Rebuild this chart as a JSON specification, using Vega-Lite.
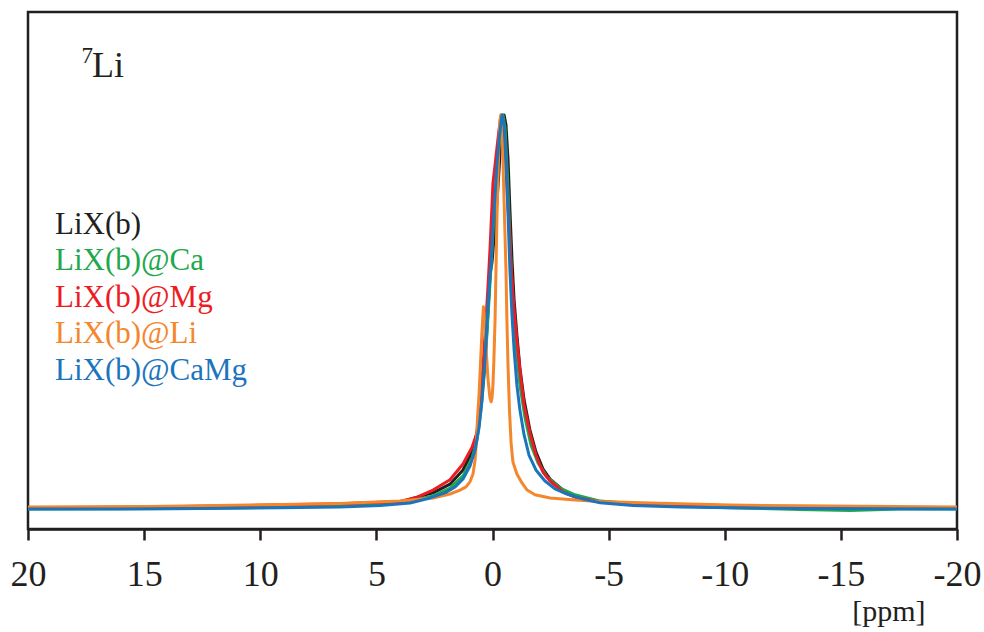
{
"$schema": "https://vega.github.io/schema/vega-lite/v6.json",
"width": 929, "height": 517,
"autosize": {"type": "none"},
"padding": {"left": 28, "top": 12, "right": 27, "bottom": 103},
"background": "white",
"config": {"view": {"stroke": "#231f20", "strokeWidth": 2.5}, "font": "Liberation Serif"},
"datasets": {
"spectra": [
{"sample":"LiX(b)","ppm":20,"intensity":0.001},{"sample":"LiX(b)","ppm":12.59,"intensity":0.004},{"sample":"LiX(b)","ppm":6.57,"intensity":0.010},{"sample":"LiX(b)","ppm":3.98,"intensity":0.018},{"sample":"LiX(b)","ppm":2.56,"intensity":0.041},{"sample":"LiX(b)","ppm":1.83,"intensity":0.063},{"sample":"LiX(b)","ppm":1.27,"intensity":0.099},{"sample":"LiX(b)","ppm":0.88,"intensity":0.145},{"sample":"LiX(b)","ppm":0.67,"intensity":0.193},{"sample":"LiX(b)","ppm":0.50,"intensity":0.264},{"sample":"LiX(b)","ppm":0.32,"intensity":0.378},{"sample":"LiX(b)","ppm":0.19,"intensity":0.505},{"sample":"LiX(b)","ppm":0.11,"intensity":0.594},{"sample":"LiX(b)","ppm":0.02,"intensity":0.627},{"sample":"LiX(b)","ppm":-0.06,"intensity":0.683},{"sample":"LiX(b)","ppm":-0.15,"intensity":0.746},{"sample":"LiX(b)","ppm":-0.24,"intensity":0.822},{"sample":"LiX(b)","ppm":-0.32,"intensity":0.898},{"sample":"LiX(b)","ppm":-0.41,"intensity":0.967},{"sample":"LiX(b)","ppm":-0.50,"intensity":1.0},{"sample":"LiX(b)","ppm":-0.58,"intensity":0.975},{"sample":"LiX(b)","ppm":-0.67,"intensity":0.886},{"sample":"LiX(b)","ppm":-0.75,"intensity":0.759},{"sample":"LiX(b)","ppm":-0.84,"intensity":0.632},{"sample":"LiX(b)","ppm":-0.93,"intensity":0.530},{"sample":"LiX(b)","ppm":-1.05,"intensity":0.442},{"sample":"LiX(b)","ppm":-1.18,"intensity":0.358},{"sample":"LiX(b)","ppm":-1.36,"intensity":0.277},{"sample":"LiX(b)","ppm":-1.61,"intensity":0.201},{"sample":"LiX(b)","ppm":-1.87,"intensity":0.145},{"sample":"LiX(b)","ppm":-2.17,"intensity":0.102},{"sample":"LiX(b)","ppm":-2.48,"intensity":0.076},{"sample":"LiX(b)","ppm":-3.04,"intensity":0.048},{"sample":"LiX(b)","ppm":-3.55,"intensity":0.033},{"sample":"LiX(b)","ppm":-4.63,"intensity":0.019},{"sample":"LiX(b)","ppm":-6.78,"intensity":0.010},{"sample":"LiX(b)","ppm":-10.23,"intensity":0.004},{"sample":"LiX(b)","ppm":-20,"intensity":0.001},

{"sample":"LiX(b)@Ca","ppm":20,"intensity":0},{"sample":"LiX(b)@Ca","ppm":12.59,"intensity":0.001},{"sample":"LiX(b)@Ca","ppm":6.57,"intensity":0.008},{"sample":"LiX(b)@Ca","ppm":3.98,"intensity":0.015},{"sample":"LiX(b)@Ca","ppm":2.56,"intensity":0.033},{"sample":"LiX(b)@Ca","ppm":1.83,"intensity":0.053},{"sample":"LiX(b)@Ca","ppm":1.27,"intensity":0.084},{"sample":"LiX(b)@Ca","ppm":0.88,"intensity":0.129},{"sample":"LiX(b)@Ca","ppm":0.67,"intensity":0.175},{"sample":"LiX(b)@Ca","ppm":0.50,"intensity":0.251},{"sample":"LiX(b)@Ca","ppm":0.32,"intensity":0.365},{"sample":"LiX(b)@Ca","ppm":0.19,"intensity":0.492},{"sample":"LiX(b)@Ca","ppm":0.06,"intensity":0.619},{"sample":"LiX(b)@Ca","ppm":-0.06,"intensity":0.746},{"sample":"LiX(b)@Ca","ppm":-0.19,"intensity":0.860},{"sample":"LiX(b)@Ca","ppm":-0.32,"intensity":0.949},{"sample":"LiX(b)@Ca","ppm":-0.45,"intensity":1.0},{"sample":"LiX(b)@Ca","ppm":-0.54,"intensity":0.967},{"sample":"LiX(b)@Ca","ppm":-0.62,"intensity":0.873},{"sample":"LiX(b)@Ca","ppm":-0.71,"intensity":0.746},{"sample":"LiX(b)@Ca","ppm":-0.80,"intensity":0.619},{"sample":"LiX(b)@Ca","ppm":-0.88,"intensity":0.518},{"sample":"LiX(b)@Ca","ppm":-1.01,"intensity":0.416},{"sample":"LiX(b)@Ca","ppm":-1.18,"intensity":0.315},{"sample":"LiX(b)@Ca","ppm":-1.40,"intensity":0.231},{"sample":"LiX(b)@Ca","ppm":-1.66,"intensity":0.162},{"sample":"LiX(b)@Ca","ppm":-1.96,"intensity":0.117},{"sample":"LiX(b)@Ca","ppm":-2.35,"intensity":0.081},{"sample":"LiX(b)@Ca","ppm":-2.91,"intensity":0.053},{"sample":"LiX(b)@Ca","ppm":-3.55,"intensity":0.036},{"sample":"LiX(b)@Ca","ppm":-4.63,"intensity":0.020},{"sample":"LiX(b)@Ca","ppm":-6.78,"intensity":0.010},{"sample":"LiX(b)@Ca","ppm":-10.23,"intensity":0.003},{"sample":"LiX(b)@Ca","ppm":-13.24,"intensity":-0.001},{"sample":"LiX(b)@Ca","ppm":-15.39,"intensity":-0.004},{"sample":"LiX(b)@Ca","ppm":-17.55,"intensity":0},{"sample":"LiX(b)@Ca","ppm":-20,"intensity":0},

{"sample":"LiX(b)@Mg","ppm":20,"intensity":0.003},{"sample":"LiX(b)@Mg","ppm":14.75,"intensity":0.005},{"sample":"LiX(b)@Mg","ppm":10.44,"intensity":0.009},{"sample":"LiX(b)@Mg","ppm":6.57,"intensity":0.013},{"sample":"LiX(b)@Mg","ppm":3.98,"intensity":0.019},{"sample":"LiX(b)@Mg","ppm":3.25,"intensity":0.030},{"sample":"LiX(b)@Mg","ppm":2.56,"intensity":0.048},{"sample":"LiX(b)@Mg","ppm":1.83,"intensity":0.074},{"sample":"LiX(b)@Mg","ppm":1.27,"intensity":0.114},{"sample":"LiX(b)@Mg","ppm":0.88,"intensity":0.157},{"sample":"LiX(b)@Mg","ppm":0.67,"intensity":0.193},{"sample":"LiX(b)@Mg","ppm":0.54,"intensity":0.259},{"sample":"LiX(b)@Mg","ppm":0.41,"intensity":0.360},{"sample":"LiX(b)@Mg","ppm":0.28,"intensity":0.480},{"sample":"LiX(b)@Mg","ppm":0.19,"intensity":0.569},{"sample":"LiX(b)@Mg","ppm":0.11,"intensity":0.657},{"sample":"LiX(b)@Mg","ppm":0.02,"intensity":0.772},{"sample":"LiX(b)@Mg","ppm":-0.02,"intensity":0.827},{"sample":"LiX(b)@Mg","ppm":-0.11,"intensity":0.873},{"sample":"LiX(b)@Mg","ppm":-0.19,"intensity":0.916},{"sample":"LiX(b)@Mg","ppm":-0.28,"intensity":0.962},{"sample":"LiX(b)@Mg","ppm":-0.37,"intensity":1.0},{"sample":"LiX(b)@Mg","ppm":-0.45,"intensity":0.982},{"sample":"LiX(b)@Mg","ppm":-0.54,"intensity":0.924},{"sample":"LiX(b)@Mg","ppm":-0.62,"intensity":0.822},{"sample":"LiX(b)@Mg","ppm":-0.71,"intensity":0.721},{"sample":"LiX(b)@Mg","ppm":-0.80,"intensity":0.612},{"sample":"LiX(b)@Mg","ppm":-0.93,"intensity":0.505},{"sample":"LiX(b)@Mg","ppm":-1.05,"intensity":0.429},{"sample":"LiX(b)@Mg","ppm":-1.18,"intensity":0.353},{"sample":"LiX(b)@Mg","ppm":-1.36,"intensity":0.264},{"sample":"LiX(b)@Mg","ppm":-1.61,"intensity":0.193},{"sample":"LiX(b)@Mg","ppm":-1.87,"intensity":0.137},{"sample":"LiX(b)@Mg","ppm":-2.17,"intensity":0.094},{"sample":"LiX(b)@Mg","ppm":-2.48,"intensity":0.071},{"sample":"LiX(b)@Mg","ppm":-3.04,"intensity":0.043},{"sample":"LiX(b)@Mg","ppm":-3.55,"intensity":0.030},{"sample":"LiX(b)@Mg","ppm":-4.63,"intensity":0.018},{"sample":"LiX(b)@Mg","ppm":-6.78,"intensity":0.010},{"sample":"LiX(b)@Mg","ppm":-10.23,"intensity":0.005},{"sample":"LiX(b)@Mg","ppm":-15.39,"intensity":0.003},{"sample":"LiX(b)@Mg","ppm":-20,"intensity":0.001},

{"sample":"LiX(b)@Li","ppm":20,"intensity":0.005},{"sample":"LiX(b)@Li","ppm":14.75,"intensity":0.006},{"sample":"LiX(b)@Li","ppm":10.44,"intensity":0.010},{"sample":"LiX(b)@Li","ppm":6.57,"intensity":0.014},{"sample":"LiX(b)@Li","ppm":3.98,"intensity":0.020},{"sample":"LiX(b)@Li","ppm":2.56,"intensity":0.028},{"sample":"LiX(b)@Li","ppm":1.83,"intensity":0.038},{"sample":"LiX(b)@Li","ppm":1.40,"intensity":0.048},{"sample":"LiX(b)@Li","ppm":1.14,"intensity":0.056},{"sample":"LiX(b)@Li","ppm":0.97,"intensity":0.069},{"sample":"LiX(b)@Li","ppm":0.84,"intensity":0.089},{"sample":"LiX(b)@Li","ppm":0.75,"intensity":0.124},{"sample":"LiX(b)@Li","ppm":0.69,"intensity":0.175},{"sample":"LiX(b)@Li","ppm":0.65,"intensity":0.226},{"sample":"LiX(b)@Li","ppm":0.58,"intensity":0.289},{"sample":"LiX(b)@Li","ppm":0.52,"intensity":0.365},{"sample":"LiX(b)@Li","ppm":0.45,"intensity":0.454},{"sample":"LiX(b)@Li","ppm":0.39,"intensity":0.513},{"sample":"LiX(b)@Li","ppm":0.32,"intensity":0.467},{"sample":"LiX(b)@Li","ppm":0.26,"intensity":0.391},{"sample":"LiX(b)@Li","ppm":0.19,"intensity":0.327},{"sample":"LiX(b)@Li","ppm":0.11,"intensity":0.282},{"sample":"LiX(b)@Li","ppm":0.06,"intensity":0.272},{"sample":"LiX(b)@Li","ppm":0.02,"intensity":0.282},{"sample":"LiX(b)@Li","ppm":-0.02,"intensity":0.315},{"sample":"LiX(b)@Li","ppm":-0.06,"intensity":0.378},{"sample":"LiX(b)@Li","ppm":-0.11,"intensity":0.480},{"sample":"LiX(b)@Li","ppm":-0.15,"intensity":0.607},{"sample":"LiX(b)@Li","ppm":-0.19,"intensity":0.734},{"sample":"LiX(b)@Li","ppm":-0.24,"intensity":0.848},{"sample":"LiX(b)@Li","ppm":-0.28,"intensity":0.937},{"sample":"LiX(b)@Li","ppm":-0.32,"intensity":0.987},{"sample":"LiX(b)@Li","ppm":-0.37,"intensity":1.0},{"sample":"LiX(b)@Li","ppm":-0.41,"intensity":0.975},{"sample":"LiX(b)@Li","ppm":-0.45,"intensity":0.886},{"sample":"LiX(b)@Li","ppm":-0.52,"intensity":0.734},{"sample":"LiX(b)@Li","ppm":-0.58,"intensity":0.607},{"sample":"LiX(b)@Li","ppm":-0.62,"intensity":0.480},{"sample":"LiX(b)@Li","ppm":-0.67,"intensity":0.360},{"sample":"LiX(b)@Li","ppm":-0.73,"intensity":0.251},{"sample":"LiX(b)@Li","ppm":-0.80,"intensity":0.168},{"sample":"LiX(b)@Li","ppm":-0.88,"intensity":0.119},{"sample":"LiX(b)@Li","ppm":-1.05,"intensity":0.089},{"sample":"LiX(b)@Li","ppm":-1.27,"intensity":0.066},{"sample":"LiX(b)@Li","ppm":-1.49,"intensity":0.048},{"sample":"LiX(b)@Li","ppm":-1.83,"intensity":0.036},{"sample":"LiX(b)@Li","ppm":-2.48,"intensity":0.028},{"sample":"LiX(b)@Li","ppm":-3.55,"intensity":0.023},{"sample":"LiX(b)@Li","ppm":-4.63,"intensity":0.019},{"sample":"LiX(b)@Li","ppm":-6.78,"intensity":0.015},{"sample":"LiX(b)@Li","ppm":-10.23,"intensity":0.010},{"sample":"LiX(b)@Li","ppm":-13.24,"intensity":0.008},{"sample":"LiX(b)@Li","ppm":-20,"intensity":0.005},

{"sample":"LiX(b)@CaMg","ppm":20,"intensity":0},{"sample":"LiX(b)@CaMg","ppm":16.04,"intensity":0},{"sample":"LiX(b)@CaMg","ppm":12.59,"intensity":0.001},{"sample":"LiX(b)@CaMg","ppm":9.15,"intensity":0.003},{"sample":"LiX(b)@CaMg","ppm":6.57,"intensity":0.005},{"sample":"LiX(b)@CaMg","ppm":4.84,"intensity":0.009},{"sample":"LiX(b)@CaMg","ppm":3.55,"intensity":0.015},{"sample":"LiX(b)@CaMg","ppm":2.69,"intensity":0.028},{"sample":"LiX(b)@CaMg","ppm":2.05,"intensity":0.041},{"sample":"LiX(b)@CaMg","ppm":1.61,"intensity":0.056},{"sample":"LiX(b)@CaMg","ppm":1.27,"intensity":0.076},{"sample":"LiX(b)@CaMg","ppm":0.97,"intensity":0.109},{"sample":"LiX(b)@CaMg","ppm":0.75,"intensity":0.150},{"sample":"LiX(b)@CaMg","ppm":0.58,"intensity":0.206},{"sample":"LiX(b)@CaMg","ppm":0.45,"intensity":0.277},{"sample":"LiX(b)@CaMg","ppm":0.32,"intensity":0.383},{"sample":"LiX(b)@CaMg","ppm":0.24,"intensity":0.475},{"sample":"LiX(b)@CaMg","ppm":0.15,"intensity":0.556},{"sample":"LiX(b)@CaMg","ppm":0.06,"intensity":0.627},{"sample":"LiX(b)@CaMg","ppm":-0.02,"intensity":0.713},{"sample":"LiX(b)@CaMg","ppm":-0.11,"intensity":0.797},{"sample":"LiX(b)@CaMg","ppm":-0.19,"intensity":0.873},{"sample":"LiX(b)@CaMg","ppm":-0.28,"intensity":0.937},{"sample":"LiX(b)@CaMg","ppm":-0.37,"intensity":0.982},{"sample":"LiX(b)@CaMg","ppm":-0.41,"intensity":1.0},{"sample":"LiX(b)@CaMg","ppm":-0.50,"intensity":0.975},{"sample":"LiX(b)@CaMg","ppm":-0.58,"intensity":0.886},{"sample":"LiX(b)@CaMg","ppm":-0.67,"intensity":0.746},{"sample":"LiX(b)@CaMg","ppm":-0.75,"intensity":0.607},{"sample":"LiX(b)@CaMg","ppm":-0.84,"intensity":0.492},{"sample":"LiX(b)@CaMg","ppm":-0.93,"intensity":0.404},{"sample":"LiX(b)@CaMg","ppm":-1.05,"intensity":0.315},{"sample":"LiX(b)@CaMg","ppm":-1.18,"intensity":0.251},{"sample":"LiX(b)@CaMg","ppm":-1.36,"intensity":0.188},{"sample":"LiX(b)@CaMg","ppm":-1.57,"intensity":0.137},{"sample":"LiX(b)@CaMg","ppm":-1.87,"intensity":0.099},{"sample":"LiX(b)@CaMg","ppm":-2.26,"intensity":0.071},{"sample":"LiX(b)@CaMg","ppm":-2.69,"intensity":0.051},{"sample":"LiX(b)@CaMg","ppm":-3.21,"intensity":0.038},{"sample":"LiX(b)@CaMg","ppm":-3.90,"intensity":0.025},{"sample":"LiX(b)@CaMg","ppm":-4.63,"intensity":0.016},{"sample":"LiX(b)@CaMg","ppm":-6.05,"intensity":0.009},{"sample":"LiX(b)@CaMg","ppm":-8.07,"intensity":0.005},{"sample":"LiX(b)@CaMg","ppm":-10.23,"intensity":0.003},{"sample":"LiX(b)@CaMg","ppm":-13.24,"intensity":0.001},{"sample":"LiX(b)@CaMg","ppm":-20,"intensity":0}
],
"labels": [
{"sample":"LiX(b)","ppm":18.84,"intensity":0.698},
{"sample":"LiX(b)@Ca","ppm":18.84,"intensity":0.607},
{"sample":"LiX(b)@Mg","ppm":18.84,"intensity":0.513},
{"sample":"LiX(b)@Li","ppm":18.84,"intensity":0.421},
{"sample":"LiX(b)@CaMg","ppm":18.84,"intensity":0.327}
],
"nucleus": [
{"part":"7","ppm":17.7,"intensity":1.132},
{"part":"Li","ppm":17.24,"intensity":1.096}
]
},
"encoding": {
"x": {"field":"ppm","type":"quantitative",
 "scale":{"domain":[-20,20],"reverse":true,"nice":false,"zero":false},
 "axis":{"values":[20,15,10,5,0,-5,-10,-15,-20],"labelExpr":"'' + datum.value","labelFont":"Liberation Serif","labelFontSize":36,"labelColor":"#231f20","labelFlush":false,"labelOverlap":false,"labelBound":false,"labelPadding":17,"tickColor":"#231f20","tickWidth":2.5,"tickSize":11,"domainColor":"#231f20","domainWidth":2.5,"grid":false,
  "title":"[ppm]","titleFont":"Liberation Serif","titleFontSize":30,"titleFontWeight":"normal","titleColor":"#231f20","titleAnchor":"end","titleAlign":"right","titleBaseline":"alphabetic","titleX":897,"titleY":91}},
"y": {"field":"intensity","type":"quantitative","scale":{"domain":[-0.0508,1.2614],"nice":false,"zero":false},"axis":null}
},
"layer": [
{"data":{"name":"spectra"},"transform":[{"filter":"datum.sample === 'LiX(b)'"}],"mark":{"type":"line","strokeWidth":3,"clip":true,"strokeJoin":"round"},"encoding":{"color":{"field":"sample","type":"nominal","scale":{"domain":["LiX(b)","LiX(b)@Ca","LiX(b)@Mg","LiX(b)@Li","LiX(b)@CaMg"],"range":["#231f20","#22a84c","#ed1c24","#f4862c","#1c75bc"]},"legend":null}}},
{"data":{"name":"spectra"},"transform":[{"filter":"datum.sample === 'LiX(b)@Ca'"}],"mark":{"type":"line","strokeWidth":3,"clip":true,"strokeJoin":"round"},"encoding":{"color":{"field":"sample","type":"nominal","legend":null}}},
{"data":{"name":"spectra"},"transform":[{"filter":"datum.sample === 'LiX(b)@Mg'"}],"mark":{"type":"line","strokeWidth":3,"clip":true,"strokeJoin":"round"},"encoding":{"color":{"field":"sample","type":"nominal","legend":null}}},
{"data":{"name":"spectra"},"transform":[{"filter":"datum.sample === 'LiX(b)@Li'"}],"mark":{"type":"line","strokeWidth":3,"clip":true,"strokeJoin":"round"},"encoding":{"color":{"field":"sample","type":"nominal","legend":null}}},
{"data":{"name":"spectra"},"transform":[{"filter":"datum.sample === 'LiX(b)@CaMg'"}],"mark":{"type":"line","strokeWidth":3,"clip":true,"strokeJoin":"round"},"encoding":{"color":{"field":"sample","type":"nominal","legend":null}}},
{"data":{"name":"labels"},"mark":{"type":"text","align":"left","baseline":"alphabetic","font":"Liberation Serif","fontSize":31},"encoding":{"text":{"field":"sample"},"color":{"field":"sample","type":"nominal","legend":null}}},
{"data":{"name":"nucleus"},"transform":[{"filter":"datum.part === '7'"}],"mark":{"type":"text","align":"left","baseline":"alphabetic","font":"Liberation Serif","fontSize":23,"color":"#231f20"},"encoding":{"text":{"field":"part"}}},
{"data":{"name":"nucleus"},"transform":[{"filter":"datum.part === 'Li'"}],"mark":{"type":"text","align":"left","baseline":"alphabetic","font":"Liberation Serif","fontSize":36,"color":"#231f20"},"encoding":{"text":{"field":"part"}}}
]
}
